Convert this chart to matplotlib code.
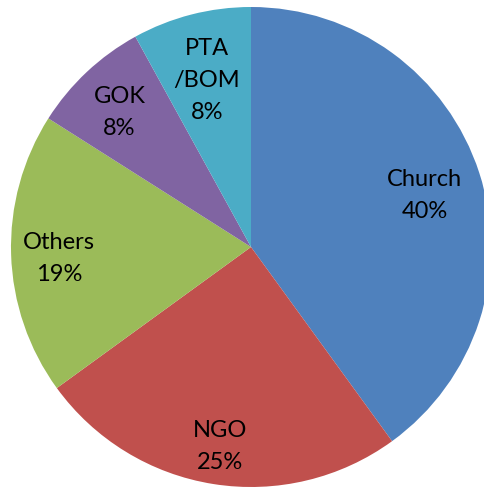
import numpy as np
import matplotlib.pyplot as plt

labels = ['Church', 'NGO', 'Others', 'GOK', 'PTA\n/BOM']
shares = [40, 25, 19, 8, 8]
colors = ['#4F81BD', '#C0504D', '#9BBB59', '#8064A2', '#4BACC6']
label_r = [0.76, 0.82, 0.80, 0.80, 0.737]

plt.rcParams['font.family'] = ['Lato', 'DejaVu Sans']

px = 240.0
fig = plt.figure(figsize=(4.84, 4.89), dpi=100)
ax = fig.add_axes([0, 0, 1, 1])
wedges, _ = ax.pie(shares, colors=colors, startangle=90, counterclock=False,
                   radius=1, wedgeprops=dict(linewidth=0))

for w, lab, v, r in zip(wedges, labels, shares, label_r):
    mid = np.deg2rad((w.theta1 + w.theta2) / 2)
    ax.text(r * np.cos(mid), r * np.sin(mid) - 4 / px, f"{lab}\n{v}%",
            ha='center', va='center', fontsize=17, linespacing=1.65, color='black')

ax.set_xlim(-251 / px, (484 - 251) / px)
ax.set_ylim(-(489 - 248) / px, 248 / px)
ax.set_aspect('auto')
ax.axis('off')

fig.savefig('out.png', dpi=100)
